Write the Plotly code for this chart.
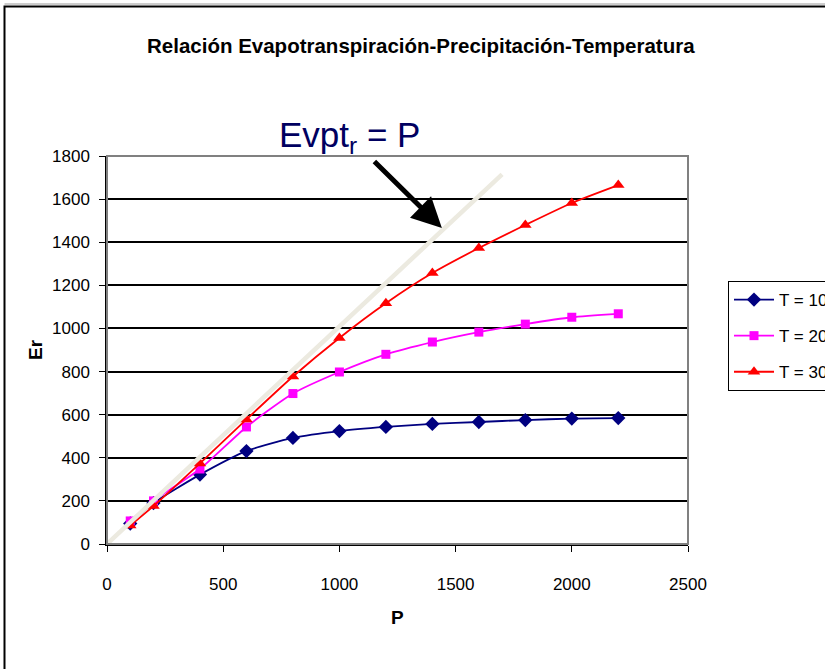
import plotly.graph_objects as go

P = [100, 200, 400, 600, 800, 1000, 1200, 1400, 1600, 1800, 2000, 2200]
T10 = [95, 190, 322, 431, 492, 524, 543, 557, 566, 575, 582, 584]
T20 = [107, 200, 348, 543, 698, 798, 880, 937, 983, 1020, 1052, 1068]
T30 = [86, 176, 374, 578, 777, 956, 1117, 1257, 1373, 1480, 1582, 1665]
names = ["T = 10°C", "T = 20°C", "T = 30°C"]
line_x = [0, 1700]
line_y = [0, 1715]
x_ticks = [0, 500, 1000, 1500, 2000, 2500]
y_ticks = [0, 200, 400, 600, 800, 1000, 1200, 1400, 1600, 1800]

FONT = "Liberation Sans, Arial, sans-serif"

fig = go.Figure()
series = [
    (T10, names[0], "#000080", "diamond", 11),
    (T20, names[1], "#FF00FF", "square", 9),
    (T30, names[2], "#FF0000", "triangle-up", 11),
]
for i, (vals, nm, col, sym, sz) in enumerate(series):
    fig.add_trace(go.Scatter(
        x=P, y=vals, name=nm, mode="lines+markers",
        line=dict(color=col, width=1.8, shape="spline", smoothing=0.6),
        marker=dict(symbol=sym, size=sz, color=col),
        legendgroup="g%d" % i,
    ))
fig.add_trace(go.Scatter(
    x=line_x, y=line_y, mode="lines", showlegend=False,
    line=dict(color="#ECEAE0", width=4.5), hoverinfo="skip",
))

W, H = 825, 669
L, R, T, B = 107, 825 - 688, 156, 669 - 544
pw, ph = W - L - R, H - T - B

def px(x):
    return (x - L) / pw

def py(y):
    return (H - B - y) / ph

fig.update_layout(
    width=W, height=H,
    margin=dict(l=L, r=R, t=T, b=B, autoexpand=False),
    paper_bgcolor="white", plot_bgcolor="white",
    font=dict(family=FONT, size=17, color="black"),
    showlegend=True,
    legend=dict(
        x=px(728), y=py(281), xanchor="left", yanchor="top",
        bordercolor="black", borderwidth=1, bgcolor="white",
        font=dict(family=FONT, size=17, color="black"),
        traceorder="grouped", tracegroupgap=11, itemwidth=40,
    ),
    xaxis=dict(
        range=[0, 2500], tickvals=x_ticks, ticks="outside", ticklen=6,
        tickcolor="black", showline=True, linecolor="black", linewidth=1.5,
        showgrid=False, zeroline=False, ticklabelstandoff=18,
        tickfont=dict(family=FONT, size=17),
    ),
    yaxis=dict(
        range=[0, 1800], tickvals=y_ticks, ticks="outside", ticklen=6,
        tickcolor="black", showline=True, linecolor="black", linewidth=1.5,
        showgrid=True, gridcolor="black", gridwidth=1.5, zeroline=False,
        ticklabelstandoff=6,
        tickfont=dict(family=FONT, size=17),
    ),
)

shapes = [
    dict(type="rect", xref="paper", yref="paper", x0=0, x1=1, y0=0, y1=1,
         line=dict(color="#808080", width=2), layer="above"),
    dict(type="rect", xref="paper", yref="paper", x0=px(4.5), x1=px(900),
         y0=py(900), y1=py(6.5), line=dict(color="black", width=2), layer="above"),
    dict(type="line", xref="paper", yref="paper", x0=px(4.5), x1=px(900),
         y0=py(4), y1=py(4), line=dict(color="#9a9a9a", width=1), layer="above"),
]
fig.update_layout(shapes=shapes)

def note(x, y, text, size, color="black", angle=0):
    fig.add_annotation(
        xref="paper", yref="paper", x=px(x), y=py(y), showarrow=False,
        xanchor="center", yanchor="middle", text=text, textangle=angle,
        font=dict(family=FONT, size=size, color=color),
    )

note(421, 46, "<b>Relación Evapotranspiración-Precipitación-Temperatura</b>", 20.5)
note(35, 350, "<b>Er</b>", 19, angle=-90)
note(397, 617, "<b>P</b>", 19)
note(349, 137, "Evpt<sub>r</sub> = P", 35, color="#000060")

fig.add_annotation(
    x=1441, y=1466, xref="x", yref="y", text="", showarrow=True,
    ax=-69, ay=-68, arrowhead=2, arrowsize=1.2, arrowwidth=5, arrowcolor="black",
)

fig.write_html("out.html", config={"displayModeBar": False},
               post_script="document.body.style.margin='0';")
